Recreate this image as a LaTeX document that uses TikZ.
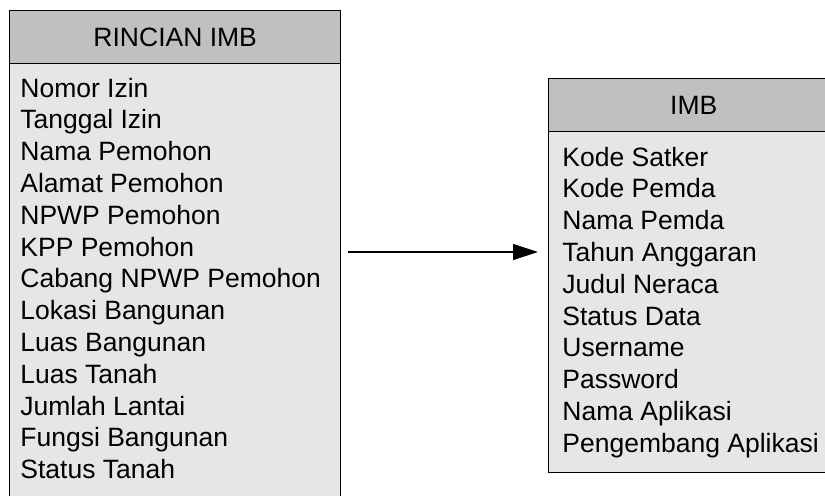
\documentclass[tikz,border=0pt]{standalone}
\usepackage{fontspec}
\setmainfont{Liberation Sans}
\usetikzlibrary{arrows.meta}
\definecolor{G}{RGB}{192, 192, 192}
\definecolor{W}{RGB}{230, 230, 230}

\begin{document}
\begin{tikzpicture}[x=0.5pt,y=-0.5pt,
	kepala/.style={draw, fill=G, line width=0.7pt, anchor=north west, minimum height=26.5pt, inner sep=0pt, font=\fontsize{13.25}{15.9}\selectfont},
	badan/.style={draw, fill=W, line width=0.7pt, anchor=north west, inner sep=0pt},
	isian/.style={anchor=base west, align=left, inner sep=0pt, font=\fontsize{13.25}{15.9}\selectfont},
	relasi/.style={-{Triangle[length=12.5pt,width=8pt]}, line width=0.6pt, shorten <=3.5pt, shorten >=5pt}]
	% Batas gambar
	\useasboundingbox (0,0) rectangle (825,495);

	% Tabel RINCIAN IMB
	% (base = garis dasar baris terakhir)
	\node[badan, minimum width=165.5pt, minimum height=230pt] (rincian) at (9,63) {};
	\node[kepala, minimum width=165.5pt] (rincianjudul) at (9,10) {RINCIAN IMB};
	\node[isian] (rincianisi) at (20,478.6) {Nomor Izin\\ Tanggal Izin\\ Nama Pemohon\\ Alamat Pemohon\\ NPWP Pemohon\\ KPP Pemohon\\ Cabang NPWP Pemohon\\ Lokasi Bangunan\\ Luas Bangunan\\ Luas Tanah\\ Jumlah Lantai\\ Fungsi Bangunan\\ Status Tanah};

	% Tabel IMB
	\node[badan, minimum width=145pt, minimum height=170.5pt] (imb) at (548,131) {};
	\node[kepala, minimum width=145pt] (imbjudul) at (548,78) {IMB};
	\node[isian] (imbisi) at (562,452.2) {Kode Satker\\ Kode Pemda\\ Nama Pemda\\ Tahun Anggaran\\ Judul Neraca\\ Status Data\\ Username\\ Password\\ Nama Aplikasi\\ Pengembang Aplikasi};

	% Relasi antar tabel
	\coordinate (garis) at (0,252);
	\draw[relasi] (rincian.east |- garis) -- (imb.west |- garis);
\end{tikzpicture}
\end{document}
